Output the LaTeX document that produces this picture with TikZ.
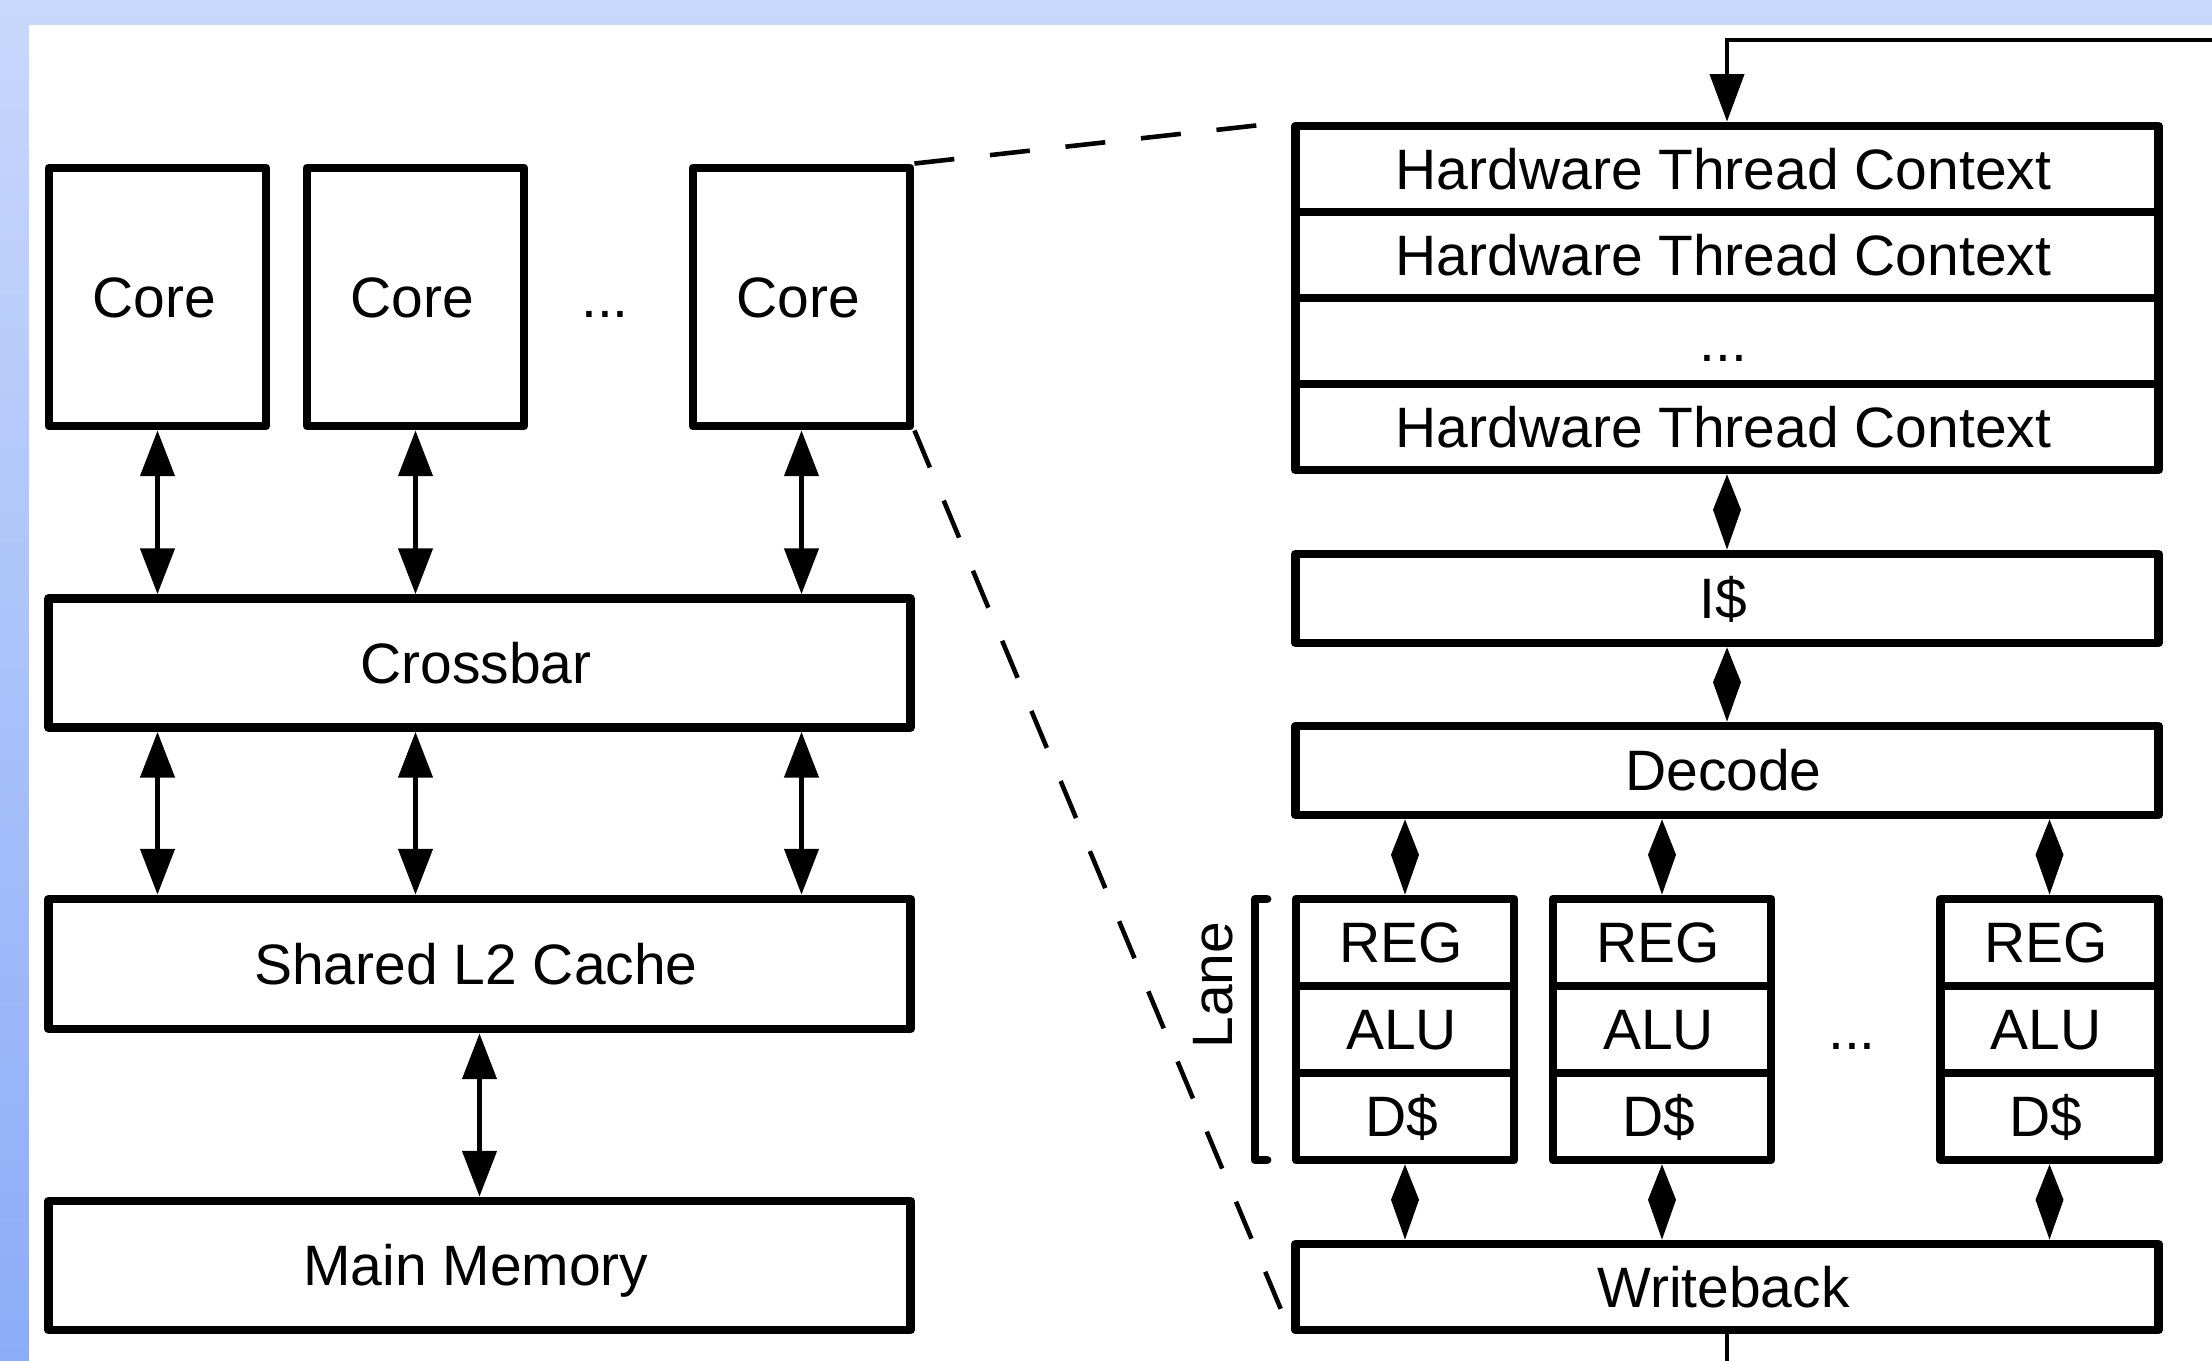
\documentclass[tikz,border=0pt]{standalone}
\usepackage{fontspec}
\setmainfont{Liberation Sans}
\usetikzlibrary{arrows.meta,calc}
\definecolor{bgtop}{RGB}{200,216,252}
\definecolor{bgbot}{RGB}{140,172,248}
\begin{document}
\begin{tikzpicture}[x=0.01cm, y=-0.01cm,
  txt/.style={font=\fontsize{16.2pt}{19pt}\selectfont, text height=11.6pt, text depth=0pt, inner sep=0pt},
  box/.style={txt, draw, line width=2.5pt, line join=round, fill=white, execute at end node={\hspace{0.07cm}}},
  corebox/.style={box, minimum width=2.17cm, minimum height=2.58cm},
  widebox/.style={box, minimum width=8.61cm, minimum height=1.29cm},
  rowbox/.style={box, minimum width=8.62cm, minimum height=0.86cm},
  stagebox/.style={box, minimum width=8.62cm, minimum height=0.89cm},
  cellbox/.style={box, minimum width=2.18cm, minimum height=0.87cm},
  biarrow/.style={line width=1.15pt, {Triangle[length=13pt,width=9.7pt]}-{Triangle[length=13pt,width=9.7pt]}},
  diamondlink/.style={fill=black},
  feedback/.style={line width=1pt},
  zoomline/.style={line width=1.3pt, dash pattern=on 11.4pt off 10.2pt}
]
\useasboundingbox (0,0) rectangle (2212,1361);
\shade[top color=bgtop, bottom color=bgbot] (0,0) rectangle (2212,1361);
\fill[white] (29,25) rectangle (2212,1361);

% left side
\node[corebox] (core1) at (157.5,297) {Core};
\node[corebox] (core2) at (415.5,297) {Core};
\node[corebox] (core3) at (801.5,297) {Core};
\node[txt] (cdots) at (605,297) {...};
\node[widebox] (xbar) at (479.5,663) {Crossbar};
\node[widebox, minimum height=1.30cm] (l2) at (479.5,964) {Shared L2 Cache};
\node[widebox] (mem) at (479.5,1265.5) {Main Memory};

\foreach \c in {core1,core2,core3}{
  \draw[biarrow] (\c.south) -- (\c.south |- xbar.north);
  \draw[biarrow] (\c.south |- xbar.south) -- (\c.south |- l2.north);
}
\draw[biarrow] (l2.south) -- (mem.north);

% right side
\node[rowbox] (htc1) at (1727,169) {Hardware Thread Context};
\node[rowbox] (htc2) at (1727,255) {Hardware Thread Context};
\node[rowbox] (htc3) at (1727,341) {...};
\node[rowbox] (htc4) at (1727,427) {Hardware Thread Context};
\node[stagebox] (icache) at (1727,598.5) {I\$};
\node[stagebox] (dec) at (1727,770.5) {Decode};

\foreach \n/\x in {a/1405,b/1662,c/2049.5}{
  \node[cellbox] (reg\n) at (\x,942.5) {REG};
  \node[cellbox] (alu\n) at (\x,1029.5) {ALU};
  \node[cellbox] (dc\n) at (\x,1116.5) {D\$};
}
\node[txt] (ldots) at (1852,1029.5) {...};
\node[rowbox] (wb) at (1727,1287) {Writeback};

% diamond connectors (from anchor A to anchor B)
\newcommand{\diamondconn}[2]{%
  \fill[diamondlink] (#1) -- ($(#1)!0.47!(#2)+(14,0)$) -- (#2) -- ($(#1)!0.47!(#2)+(-14,0)$) -- cycle;}
\diamondconn{htc4.south}{icache.north}
\diamondconn{icache.south}{dec.north}
\foreach \n in {a,b,c}{
  \coordinate (dtop\n) at (reg\n.north |- dec.south);
  \coordinate (wtop\n) at (dc\n.south |- wb.north);
  \diamondconn{dtop\n}{reg\n.north}
  \diamondconn{dc\n.south}{wtop\n}
}

% feedback loop
\coordinate (fbR) at (2212,40);
\coordinate (fbC) at (1727,40);
\coordinate (fbB) at (1727,1361);
\draw[feedback, -{Triangle[length=13.5pt,width=9.7pt]}] (fbR) -- (fbC) -- (htc1.north);
\draw[feedback] (wb.south) -- (fbB);

% lane bracket
\draw[line width=2.5pt, line cap=round, line join=round] (1267,899) -- (1255,899) -- (1255,1160) -- (1267,1160);
\node[txt, rotate=90] (lanelbl) at (1212,985) {Lane};

% zoom lines
\draw[zoomline] (core3.north east) -- (htc1.north west);
\draw[zoomline] (core3.south east) -- (wb.south west);
\end{tikzpicture}
\end{document}
